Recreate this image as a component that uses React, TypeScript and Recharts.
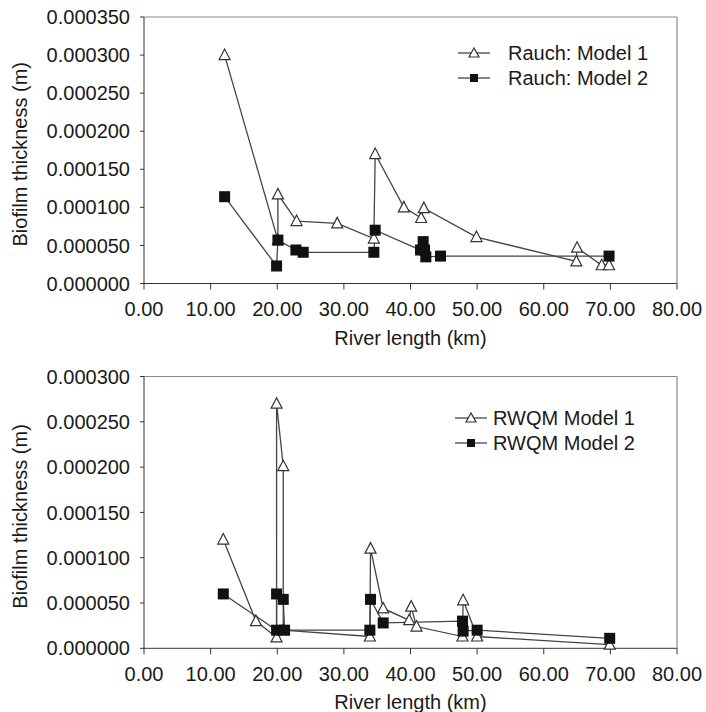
import { LineChart, Line, XAxis, YAxis, ReferenceLine, Legend } from "recharts"

const FONT = "'Liberation Sans', Arial, sans-serif"
const INK = "#1a1a1a"
const AXIS = "#333"
const FRAME = "#8a8a8a"
const LINE = "#444"

const X_TICKS = [0, 10, 20, 30, 40, 50, 60, 70, 80]
const TOP_Y_TICKS = [0, 0.00005, 0.0001, 0.00015, 0.0002, 0.00025, 0.0003, 0.00035]
const BOTTOM_Y_TICKS = [0, 0.00005, 0.0001, 0.00015, 0.0002, 0.00025, 0.0003]

// top panel - Rauch
const RAUCH1_KM = [12.1, 20.1, 20.1, 22.9, 29.0, 34.5, 34.7, 39.0, 41.6, 42.0, 49.9, 64.9, 65.0, 68.7, 69.8]
const RAUCH1_THICK = [0.0003, 0.000057, 0.000117, 0.000082, 0.000079, 0.000059, 0.00017, 0.0001, 0.000086, 0.000099, 0.000061, 0.000029, 0.000047, 0.000024, 0.000024]
const RAUCH2_KM = [12.1, 19.9, 20.1, 22.8, 23.9, 34.5, 34.7, 41.5, 41.9, 42.1, 42.3, 44.5, 69.8]
const RAUCH2_THICK = [0.000114, 0.000023, 0.000057, 0.000044, 0.000041, 0.000041, 0.00007, 0.000044, 0.000055, 0.000044, 0.000035, 0.000036, 0.000036]

// bottom panel - RWQM
const RWQM1_KM = [11.9, 16.8, 19.9, 19.9, 20.9, 20.9, 33.9, 34.0, 35.9, 39.8, 40.1, 40.9, 47.8, 47.9, 50.0, 69.9]
const RWQM1_THICK = [0.00012, 0.00003, 0.000012, 0.00027, 0.000201, 0.00002, 0.000013, 0.00011, 0.000044, 0.000031, 0.000046, 0.000024, 0.000013, 0.000053, 0.000013, 0.000004]
const RWQM2_KM = [11.9, 19.9, 19.9, 20.9, 21.1, 33.9, 34.0, 35.9, 47.8, 47.9, 50.0, 69.9]
const RWQM2_THICK = [0.00006, 0.00002, 0.00006, 0.000054, 0.00002, 0.00002, 0.000054, 0.000028, 0.00003, 0.000019, 0.00002, 0.000011]

const pts = (xs: number[], ys: number[]) => xs.map((x, i) => ({ x, y: ys[i] }))

function Triangle(props: any) {
  const { cx, cy, index } = props
  if (cx == null || cy == null) return null
  return (
    <polygon
      key={`tri-${index}`}
      points={`${cx},${cy - 6} ${cx - 5.5},${cy + 4.5} ${cx + 5.5},${cy + 4.5}`}
      fill="#fff"
      stroke={AXIS}
      strokeWidth={1.2}
    />
  )
}

function Square(props: any) {
  const { cx, cy, index } = props
  if (cx == null || cy == null) return null
  return <rect key={`sq-${index}`} x={cx - 5.5} y={cy - 5.5} width={11} height={11} fill="#111" />
}

function LegendBox({ labels, gap }: { labels: string[]; gap: number }) {
  return (
    <div style={{ fontFamily: FONT, fontSize: 20, color: INK }}>
      {labels.map((label, i) => (
        <div key={label} style={{ display: "flex", alignItems: "center", height: 25 }}>
          <svg width={32} height={14} style={{ marginRight: gap }}>
            <line x1={0} y1={7} x2={32} y2={7} stroke={LINE} strokeWidth={1.3} />
            {i === 0 ? (
              <polygon points="16,2 11,11 21,11" fill="#fff" stroke={AXIS} strokeWidth={1.2} />
            ) : (
              <rect x={12} y={3} width={8} height={8} fill="#111" />
            )}
          </svg>
          <span style={{ lineHeight: "25px" }}>{label}</span>
        </div>
      ))}
    </div>
  )
}

function Panel({
  m1,
  m2,
  labels,
  yMax,
  yTicks,
  top,
  xAxisHeight,
  legendLeft,
  legendTop,
  legendGap,
}: {
  m1: { x: number; y: number }[]
  m2: { x: number; y: number }[]
  labels: string[]
  yMax: number
  yTicks: number[]
  top: number
  xAxisHeight: number
  legendLeft: number
  legendTop: number
  legendGap: number
}) {
  const tickStyle = { fill: INK, fontSize: 20, fontFamily: FONT }
  return (
    <LineChart width={706} height={356} margin={{ top, right: 29, bottom: 0, left: 0 }}>
      <XAxis
        type="number"
        dataKey="x"
        domain={[0, 80]}
        ticks={X_TICKS}
        tickFormatter={(v: number) => v.toFixed(2)}
        tickSize={6}
        tickMargin={12}
        height={xAxisHeight}
        stroke={AXIS}
        tick={tickStyle}
        label={{
          content: ({ viewBox }: any) => (
            <text
              x={viewBox.x + viewBox.width / 2}
              y={viewBox.y + 61}
              textAnchor="middle"
              fill={INK}
              fontSize={20}
              fontFamily={FONT}
            >
              River length (km)
            </text>
          ),
        }}
      />
      <YAxis
        type="number"
        dataKey="y"
        domain={[0, yMax]}
        ticks={yTicks}
        tickFormatter={(v: number) => v.toFixed(6)}
        width={144}
        tickSize={4}
        tickMargin={10}
        stroke={AXIS}
        tick={tickStyle}
        label={{
          content: ({ viewBox }: any) => {
            const cy = viewBox.y + viewBox.height / 2 + 4
            return (
              <text
                x={27}
                y={cy}
                transform={`rotate(-90 27 ${cy})`}
                textAnchor="middle"
                fill={INK}
                fontSize={20}
                fontFamily={FONT}
              >
                Biofilm thickness (m)
              </text>
            )
          },
        }}
      />
      <ReferenceLine y={yMax} stroke={FRAME} strokeWidth={1.2} />
      <ReferenceLine x={80} stroke={FRAME} strokeWidth={1.2} />
      <Legend
        layout="horizontal"
        verticalAlign="middle"
        align="center"
        wrapperStyle={{ position: "absolute", left: legendLeft, top: legendTop, width: "auto" }}
        content={() => <LegendBox labels={labels} gap={legendGap} />}
      />
      <Line
        data={m1}
        dataKey="y"
        name={labels[0]}
        type="linear"
        stroke={LINE}
        strokeWidth={1.3}
        dot={Triangle}
        activeDot={false}
        isAnimationActive={false}
      />
      <Line
        data={m2}
        dataKey="y"
        name={labels[1]}
        type="linear"
        stroke={LINE}
        strokeWidth={1.3}
        dot={Square}
        activeDot={false}
        isAnimationActive={false}
      />
    </LineChart>
  )
}

export default function App() {
  return (
    <div
      style={{
        position: "absolute",
        left: 0,
        top: 0,
        width: 706,
        height: 712,
        background: "#fff",
        overflow: "hidden",
      }}
    >
      <div style={{ position: "absolute", left: 0, top: 0 }}>
        <Panel
          m1={pts(RAUCH1_KM, RAUCH1_THICK)}
          m2={pts(RAUCH2_KM, RAUCH2_THICK)}
          labels={["Rauch: Model 1", "Rauch: Model 2"]}
          yMax={0.00035}
          yTicks={TOP_Y_TICKS}
          top={17}
          xAxisHeight={72.5}
          legendLeft={458}
          legendTop={40.5}
          legendGap={18}
        />
      </div>
      <div style={{ position: "absolute", left: 0, top: 356 }}>
        <Panel
          m1={pts(RWQM1_KM, RWQM1_THICK)}
          m2={pts(RWQM2_KM, RWQM2_THICK)}
          labels={["RWQM Model 1", "RWQM Model 2"]}
          yMax={0.0003}
          yTicks={BOTTOM_Y_TICKS}
          top={20.5}
          xAxisHeight={63.7}
          legendLeft={455}
          legendTop={49.5}
          legendGap={6}
        />
      </div>
    </div>
  )
}
